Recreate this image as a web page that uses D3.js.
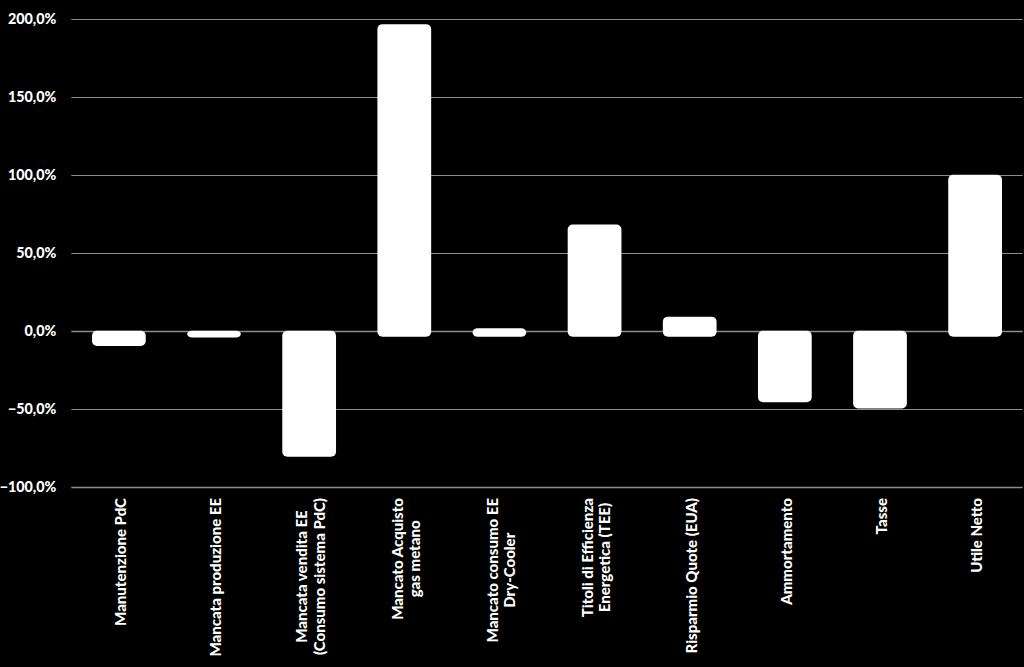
<!DOCTYPE html>
<html><head><meta charset="utf-8">
<script src="https://cdn.jsdelivr.net/npm/d3@7/dist/d3.min.js"></script>
<style>
html,body{margin:0;padding:0;background:#000;}
svg{display:block;}
text{font-family:Lato,"Open Sans",sans-serif;font-weight:bold;fill:#fff;}
</style></head>
<body>
<svg id="chart" width="1024" height="667"></svg>
<script>
const categories = [
  ["Manutenzione PdC"],
  ["Mancata produzione EE"],
  ["Mancata vendita EE", "(Consumo sistema PdC)"],
  ["Mancato Acquisto", "gas metano"],
  ["Mancato consumo EE", "Dry-Cooler"],
  ["Titoli di Efficienza", "Energetica (TEE)"],
  ["Risparmio Quote (EUA)"],
  ["Ammortamento"],
  ["Tasse"],
  ["Utile Netto"]
];
const values = [-6, -0.5, -77, 196.5, 1.5, 68, 9, -42, -46, 100];
const yTicks = [-100, -50, 0, 50, 100, 150, 200];

const svg = d3.select("#chart");
svg.append("rect").attr("width",1024).attr("height",667).attr("fill","#000");

const pLeft = 71.3, pRight = 1022.7, pTop = 18.7, pBottom = 486.7;
const x = d3.scaleBand().domain(d3.range(categories.length)).range([pLeft, pRight]).paddingInner(0.435).paddingOuter(0.2175);
const y = d3.scaleLinear().domain([-100, 200]).range([pBottom, pTop]);

const fmt = v => d3.format(".1f")(v).replace(".", ",") + "%";

// gridlines
svg.append("g").selectAll("line").data(yTicks).join("line")
  .attr("x1", pLeft).attr("x2", pRight)
  .attr("y1", d => Math.round(y(d)) + 0.5).attr("y2", d => Math.round(y(d)) + 0.5)
  .attr("stroke", "#8c8c8c").attr("stroke-width", d => d === -100 || d === 0 ? 1.6 : 1.2);

// y labels
const yAxis = d3.axisLeft(y).tickValues(yTicks).tickFormat(fmt).tickSize(0).tickPadding(0);
const ag = svg.append("g").attr("transform", `translate(${pLeft - 15},0)`).call(yAxis);
ag.select(".domain").remove();
ag.selectAll("text").attr("font-size", 14.3).attr("fill", "#fff")
  .style("font-family", "Lato, sans-serif").style("font-weight", "900");

// bars (with downward white offset, as in reference)
const off = 6;
svg.append("g").selectAll("rect").data(values).join("rect")
  .attr("x", (d, i) => x(i))
  .attr("width", x.bandwidth())
  .attr("y", d => d >= 0 ? y(d) : y(0))
  .attr("height", d => Math.abs(y(d) - y(0)) + off)
  .attr("rx", 5).attr("ry", 5)
  .attr("fill", "#fff");

// category labels
const lg = svg.append("g");
categories.forEach((lines, i) => {
  const cx = x(i) + x.bandwidth() / 2 + 1;
  const lh = 17.5;
  const g = lg.append("g");
  const texts = lines.map((l, j) => g.append("text")
    .attr("font-size", 15)
    .style("font-weight", "900")
    .attr("text-anchor", "middle")
    .attr("dominant-baseline", "central")
    .text(l));
  const maxW = d3.max(texts, t => t.node().getComputedTextLength());
  const yTop = 498;
  texts.forEach((t, j) => {
    const tx = cx + (j - (lines.length - 1) / 2) * lh;
    const ty = yTop + maxW / 2;
    t.attr("transform", `translate(${tx},${ty}) rotate(-90)`);
  });
});
</script>
</body></html>
